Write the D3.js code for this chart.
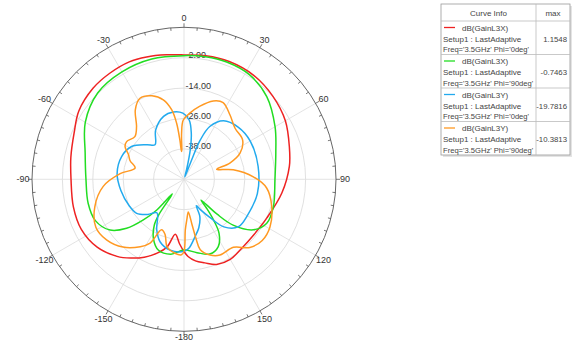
<!DOCTYPE html>
<html><head><meta charset="utf-8">
<script src="https://cdn.jsdelivr.net/npm/d3@7"></script>
<style>
html,body{margin:0;padding:0;background:#fff;}
svg{display:block;font-family:"Liberation Sans",Arial,sans-serif;}
</style></head>
<body><svg id="c" width="576" height="342"></svg>
<script>
// ---- data (theta in degrees, value in dB) ----
const angleTicks = [0, 30, 60, 90, 120, 150, 180, -150, -120, -90, -60, -30];
const angleTickLabels = ["0", "30", "60", "90", "120", "150", "-180", "-150", "-120", "-90", "-60", "-30"];
const ringValues = [-38, -26, -14, -2, 10];
const ringLabels = ["-38.00", "-26.00", "-14.00", "-2.00"];
const radialDomain = [-50, 10];

const redSeries = [[-180,-21.5],[-176,-24.5],[-171,-28],[-166,-22.5],[-160,-19],[-153,-15.5],[-146,-12.5],[-139,-9.7],[-128,-6.5],[-116,-4.9],[-104,-5.0],[-90,-5.4],[-79,-4.5],[-67,-2.9],[-57,-0.5],[-45,0.8],[-35,1.1],[-25,1.15],[-17,0.5],[-8,-0.4],[0,-0.9],[10,-0.5],[21,-0.2],[34,-0.6],[47,-2.0],[60,-3.8],[73,-6.5],[83,-8.1],[98,-11],[115,-13.9],[128,-14.8],[140,-14.5],[150,-13.5],[159,-14],[166,-16],[172,-17.5],[177,-19.5]];
const greenSeries = [[-180,-22.1],[-170,-20],[-160,-20.3],[-153,-23.5],[-147,-28.5],[-144.5,-33],[-141.5,-42.6],[-138.5,-33.8],[-135,-27.3],[-130.5,-20.2],[-124.5,-14.6],[-115,-11.4],[-104,-11],[-90,-11.3],[-75,-9.6],[-60,-5],[-45,-1.8],[-30,-1.0],[-15,-0.8],[0,-1.2],[10,-0.9],[20,-0.75],[32,-1.3],[45,-3.8],[60,-8.5],[74,-12.3],[90,-14.1],[107,-13.1],[118,-13],[126,-16.1],[133,-23.5],[136.5,-31],[140.6,-39.4],[142,-35.5],[144,-30.2],[147,-24.6],[153,-20.2],[161,-18.8],[170,-20.6]];
const blueSeries = [[-180,-21.6],[-169,-21.5],[-159,-23.6],[-151.7,-27.3],[-141,-33],[-134,-30],[-125.7,-27],[-116,-26],[-100,-24.7],[-85,-23.5],[-70,-23.8],[-58,-25.6],[-47,-30],[-40,-32.2],[-30,-27.6],[-18,-23.9],[-9,-23.1],[-1,-23.9],[5,-26.5],[9,-31.6],[12,-38.2],[15,-46],[19,-49],[21.5,-42],[22.5,-33.3],[26,-26.8],[34,-22.1],[46,-20.3],[60,-19.8],[80,-20.3],[101,-20.5],[120,-21.2],[131,-21.5],[140,-25.5],[146,-32],[151,-36],[155,-38.5],[157,-34],[163,-30],[169,-27],[176,-22.7]];
const orangeSeries = [[-180,-21.5],[-178,-20.2],[-173,-20.6],[-166,-22.5],[-161,-27],[-156,-28.2],[-152,-21.5],[-147,-18.3],[-138,-14],[-128,-11.2],[-118.5,-10.4],[-107,-13.2],[-95,-18],[-85,-24.7],[-77,-30.2],[-71,-27.5],[-66,-26],[-61,-23.4],[-56.7,-22.9],[-49,-24.3],[-42,-22],[-35,-16.5],[-28.5,-13.6],[-21,-14.7],[-14.6,-17.6],[-10,-22.2],[-7.5,-27.7],[-6,-34.4],[-5.2,-39],[-4.3,-38.4],[-3,-31.8],[-0.7,-26.6],[5,-23.8],[12,-20.6],[20.5,-17],[27,-16],[35.6,-18.8],[45,-21.5],[56,-22.1],[65,-25.6],[70.5,-30.8],[73,-36.5],[79,-30.2],[88,-22.6],[96,-17.2],[107,-13.8],[119,-11.2],[128,-10.8],[136,-12.6],[144,-16.8],[154.6,-16.9],[161,-18.4],[167,-21.5],[168.5,-26],[170,-32],[172.5,-37],[176,-34],[178.5,-30]];

const seriesNames = ["dB(GainL3X)", "dB(GainL3X)", "dB(GainL3Y)", "dB(GainL3Y)"];
const seriesSetups = ["Setup1 : LastAdaptive", "Setup1 : LastAdaptive", "Setup1 : LastAdaptive", "Setup1 : LastAdaptive"];
const seriesFreqs = ["Freq='3.5GHz' Phi='0deg'", "Freq='3.5GHz' Phi='90deg'", "Freq='3.5GHz' Phi='0deg'", "Freq='3.5GHz' Phi='90deg'"];
const seriesMax = ["1.1548", "-0.7463", "-19.7816", "-10.3813"];
const seriesColors = ["#ee2222", "#22dd22", "#22aaee", "#ff9922"];
const allSeries = [redSeries, greenSeries, blueSeries, orangeSeries];

// ---- drawing ----
const svg = d3.select("#c");
const cx = 184, cy = 179.3, R = 152;
const rScale = d3.scaleLinear().domain(radialDomain).range([0, R]).clamp(true);
const toRad = d => d * Math.PI / 180;
const g = svg.append("g").attr("transform", `translate(${cx},${cy})`);

// rings
g.selectAll("circle.ring").data(ringValues.slice(0, -1)).join("circle")
  .attr("r", d => rScale(d)).attr("fill", "none")
  .attr("stroke", "#d8d8d8").attr("stroke-width", 0.8);

// radial spokes
g.selectAll("line.spoke").data(d3.range(0, 360, 30)).join("line")
  .attr("x1", 0).attr("y1", 0)
  .attr("x2", d => R * Math.sin(toRad(d))).attr("y2", d => -R * Math.cos(toRad(d)))
  .attr("stroke", "#dcdcdc").attr("stroke-width", 0.8);

// outer circle
g.append("circle").attr("r", R).attr("fill", "none").attr("stroke", "#555").attr("stroke-width", 0.9);

// ticks on outer circle
g.selectAll("line.tick").data(d3.range(0, 360, 5)).join("line")
  .attr("x1", d => R * Math.sin(toRad(d))).attr("y1", d => -R * Math.cos(toRad(d)))
  .attr("x2", d => (R - (d % 30 === 0 ? 0 : 3)) * Math.sin(toRad(d)))
  .attr("y2", d => -(R - (d % 30 === 0 ? 0 : 3)) * Math.cos(toRad(d)))
  .attr("stroke", "#555").attr("stroke-width", 0.8);
g.selectAll("line.tickout").data(d3.range(0, 360, 30)).join("line")
  .attr("x1", d => R * Math.sin(toRad(d))).attr("y1", d => -R * Math.cos(toRad(d)))
  .attr("x2", d => (R + 4) * Math.sin(toRad(d))).attr("y2", d => -(R + 4) * Math.cos(toRad(d)))
  .attr("stroke", "#555").attr("stroke-width", 0.8);

// angle labels
const LR = 161;
g.selectAll("text.ang").data(angleTicks).join("text")
  .attr("x", d => LR * Math.sin(toRad(d)))
  .attr("y", d => (Math.abs(d) === 180 ? -(LR - 3.5) : -LR) * Math.cos(toRad(d)))
  .attr("text-anchor", "middle").attr("dominant-baseline", "central")
  .attr("font-size", 9).attr("fill", "#333")
  .text((d, i) => angleTickLabels[i]);

// ring labels
g.selectAll("text.ringlab").data(ringLabels).join("text")
  .attr("x", 1.5).attr("y", (d, i) => -rScale(ringValues[i]) + 0.5)
  .attr("font-size", 9).attr("fill", "#333")
  .text(d => d);

// curves
const line = d3.lineRadial()
  .angle(d => toRad(d[0]))
  .radius(d => rScale(d[1]))
  .curve(d3.curveCatmullRomClosed.alpha(0.5));
g.selectAll("path.curve").data(allSeries).join("path")
  .attr("d", d => line(d)).attr("fill", "none")
  .attr("stroke", (d, i) => seriesColors[i]).attr("stroke-width", 1.5)
  .attr("stroke-linejoin", "round");

// legend
const lx = 441, ly = 4, lw = 129, headH = 17, rowH = 33.5, colX = 536;
const lg = svg.append("g");
const lh = headH + rowH * seriesNames.length;
lg.append("rect").attr("x", lx + 2).attr("y", ly + 2).attr("width", lw).attr("height", lh).attr("fill", "#e4e4e4");
lg.append("rect").attr("x", lx).attr("y", ly).attr("width", lw).attr("height", lh)
  .attr("fill", "#fff").attr("stroke", "#999").attr("stroke-width", 0.8);
lg.append("line").attr("x1", colX).attr("x2", colX).attr("y1", ly).attr("y2", ly + lh).attr("stroke", "#bbb").attr("stroke-width", 0.8);
lg.append("text").attr("x", (lx + colX) / 2).attr("y", ly + headH / 2 + 3).attr("text-anchor", "middle")
  .attr("font-size", 8).attr("fill", "#444").text("Curve Info");
lg.append("text").attr("x", (colX + lx + lw) / 2).attr("y", ly + headH / 2 + 3).attr("text-anchor", "middle")
  .attr("font-size", 8).attr("fill", "#444").text("max");
seriesNames.forEach((name, i) => {
  const top = ly + headH + rowH * i;
  lg.append("line").attr("x1", lx).attr("x2", lx + lw).attr("y1", top).attr("y2", top).attr("stroke", "#bbb").attr("stroke-width", 0.8);
  lg.append("line").attr("x1", lx + 3).attr("x2", lx + 14).attr("y1", top + 6.5).attr("y2", top + 6.5)
    .attr("stroke", seriesColors[i]).attr("stroke-width", 1.3);
  lg.append("text").attr("x", lx + 21).attr("y", top + 9.5).attr("font-size", 8).attr("fill", "#444").text(name);
  lg.append("text").attr("x", lx + 2).attr("y", top + 20.5).attr("font-size", 8).attr("fill", "#444").text(seriesSetups[i]);
  lg.append("text").attr("x", lx + 2).attr("y", top + 31).attr("font-size", 7.6).attr("fill", "#444").text(seriesFreqs[i]);
  lg.append("text").attr("x", lx + lw - 3).attr("y", top + 20.5).attr("text-anchor", "end")
    .attr("font-size", 7.8).attr("fill", "#444").text(seriesMax[i]);
});
</script></body></html>
